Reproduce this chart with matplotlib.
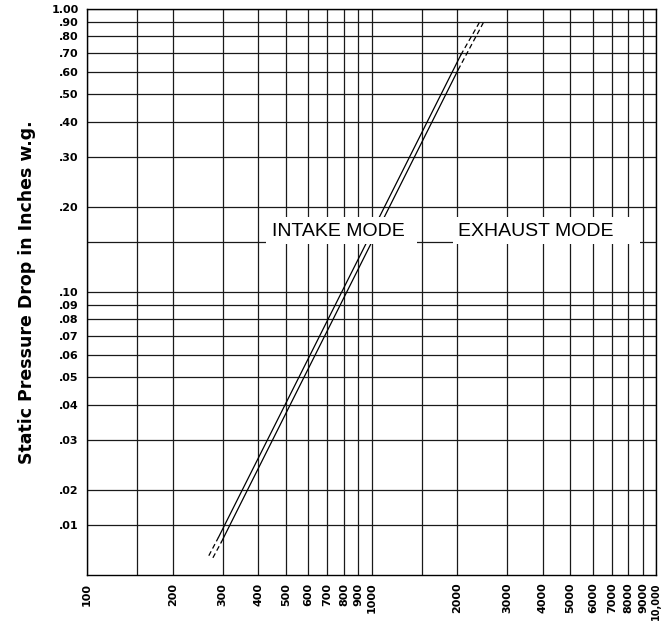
import numpy as np
import matplotlib.pyplot as plt
from matplotlib.patches import Rectangle

# x grid / tick values (airflow) and labels
x_ticks = [100, 150, 200, 300, 400, 500, 600, 700, 800, 900, 1000,
           1500, 2000, 3000, 4000, 5000, 6000, 7000, 8000, 9000, 10000]
x_labels = ['100', '', '200', '300', '400', '500', '600', '700', '800', '900', '1000',
            '', '2000', '3000', '4000', '5000', '6000', '7000', '8000', '9000', '10,000']

# y grid / tick values (static pressure drop) and labels as printed on the chart
y_ticks = [0.015, 0.02, 0.03, 0.04, 0.05, 0.06, 0.07, 0.08, 0.09, 0.10,
           0.15, 0.20, 0.30, 0.40, 0.50, 0.60, 0.70, 0.80, 0.90, 1.00]
y_labels = ['.01', '.02', '.03', '.04', '.05', '.06', '.07', '.08', '.09', '.10',
            '', '.20', '.30', '.40', '.50', '.60', '.70', '.80', '.90', '1.00']

# curve 1 (upper/left line) - solid part and dashed extensions
c1_x = [290, 2060]
c1_y = [0.0136, 0.688]
c1_lo_x = [268, 290]
c1_lo_y = [0.0117, 0.0136]
c1_hi_x = [2060, 2390]
c1_hi_y = [0.688, 0.893]

# curve 2 (lower/right line)
c2_x = [297, 2015]
c2_y = [0.0131, 0.609]
c2_lo_x = [277, 297]
c2_lo_y = [0.0115, 0.0131]
c2_hi_x = [2015, 2470]
c2_hi_y = [0.609, 0.893]

fig = plt.figure(figsize=(6.68, 6.21), dpi=100)
ax = fig.add_axes([87 / 668, 1 - 575 / 621, (656 - 87) / 668, (575 - 9) / 621])
ax.set_xscale('log')
ax.set_yscale('log')
ax.set_xlim(100, 10000)
ax.set_ylim(0.01, 1.0)

# grid
for xv in x_ticks:
    ax.axvline(xv, color='#1a1a1a', lw=0.9, zorder=1)
for yv in y_ticks:
    ax.axhline(yv, color='#1a1a1a', lw=0.9, zorder=1)

# lines
ax.plot(c1_x, c1_y, color='black', lw=0.9, zorder=3)
ax.plot(c2_x, c2_y, color='black', lw=0.9, zorder=3)
for xs, ys in [(c1_lo_x, c1_lo_y), (c1_hi_x, c1_hi_y),
               (c2_lo_x, c2_lo_y), (c2_hi_x, c2_hi_y)]:
    ax.plot(xs, ys, color='black', lw=0.9, linestyle=(0, (4, 2.5)), zorder=3)

# white label boxes
ax.add_patch(Rectangle((426, 0.148), 1445 - 426, 0.184 - 0.148,
                       facecolor='white', edgecolor='none', zorder=4))
ax.add_patch(Rectangle((1934, 0.148), 8790 - 1934, 0.184 - 0.148,
                       facecolor='white', edgecolor='none', zorder=4))
ax.text(762, 0.163, 'INTAKE MODE', fontsize=14, family='Liberation Sans',
        ha='center', va='center', zorder=5)
ax.text(3785, 0.163, 'EXHAUST MODE', fontsize=14, family='Liberation Sans',
        ha='center', va='center', zorder=5)

ax.minorticks_off()
ax.set_xticks(x_ticks)
ax.set_xticklabels(x_labels, rotation=90, fontsize=8, fontweight='bold')
ax.get_xticklabels()[-1].set_fontsize(7)
ax.set_yticks(y_ticks)
ax.set_yticklabels(y_labels, fontsize=8, fontweight='bold')
ax.tick_params(axis='x', length=0, pad=5.5)
ax.tick_params(axis='y', length=0, pad=6)
for s in ax.spines.values():
    s.set_linewidth(1.0)
    s.set_zorder(6)

fig.text(27 / 668, 1 - 292 / 621, 'Static Pressure Drop in Inches w.g.',
         rotation=90, ha='center', va='center', fontsize=12.5, fontweight='bold')

fig.savefig('out.png', dpi=100)
